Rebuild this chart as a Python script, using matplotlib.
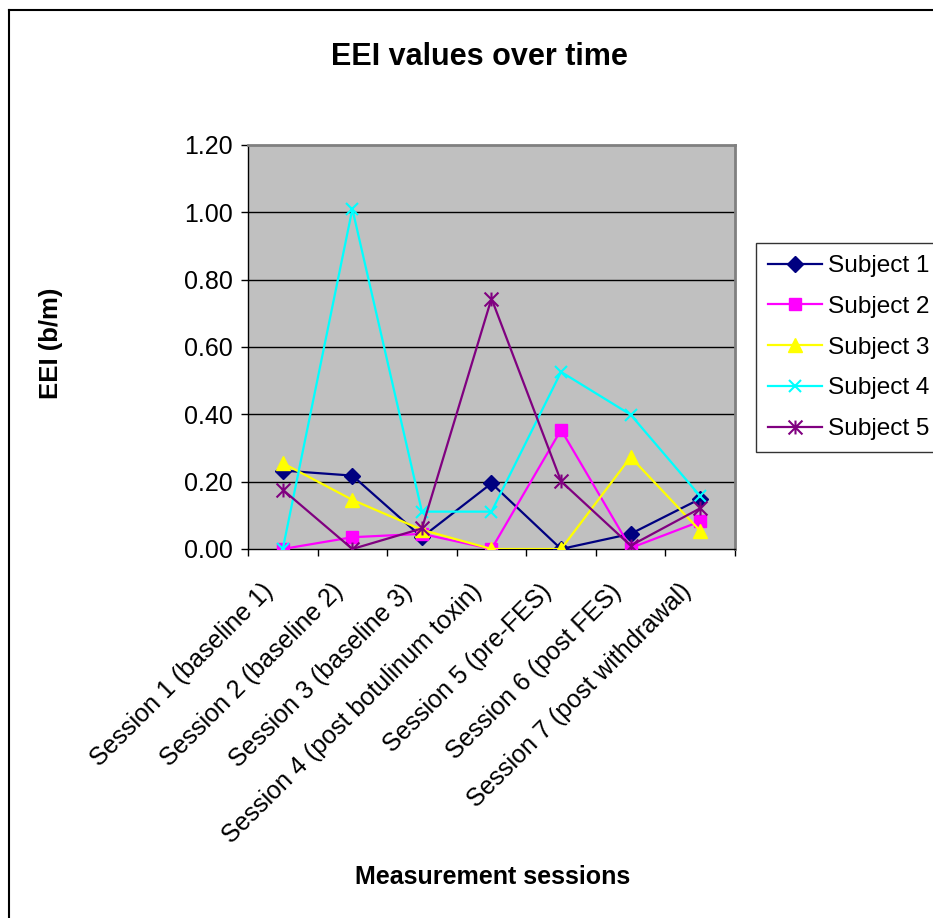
import numpy as np
import matplotlib
matplotlib.use("Agg")
import matplotlib.pyplot as plt
from matplotlib.path import Path
from matplotlib.lines import Line2D
from matplotlib.ticker import FixedLocator, FormatStrFormatter
from matplotlib.transforms import ScaledTranslation

plt.rcParams["font.family"] = ["Liberation Sans", "DejaVu Sans"]

sessions = [
    "Session 1 (baseline 1)",
    "Session 2 (baseline 2)",
    "Session 3 (baseline 3)",
    "Session 4 (post botulinum toxin)",
    "Session 5 (pre-FES)",
    "Session 6 (post FES)",
    "Session 7 (post withdrawal)",
]
subject_names = ["Subject 1", "Subject 2", "Subject 3", "Subject 4", "Subject 5"]

subject1 = [0.233, 0.218, 0.035, 0.195, 0.0, 0.045, 0.149]
subject2 = [0.0, 0.035, 0.045, 0.0, 0.354, 0.003, 0.082]
subject3 = [0.255, 0.146, 0.057, 0.0, 0.0, 0.273, 0.054]
subject4 = [0.0, 1.010, 0.111, 0.111, 0.526, 0.399, 0.157]
subject5 = [0.176, 0.0, 0.061, 0.744, 0.201, 0.010, 0.121]

# excel-style asterisk: vertical bar plus an X
star = Path(
    [(0, -1), (0, 1), (-1, -1), (1, 1), (-1, 1), (1, -1)],
    [Path.MOVETO, Path.LINETO, Path.MOVETO, Path.LINETO, Path.MOVETO, Path.LINETO],
)

styles = [
    dict(color="#000080", marker="D", ms=8.5),
    dict(color="#FF00FF", marker="s", ms=8),
    dict(color="#FFFF00", marker="^", ms=10),
    dict(color="#00FFFF", marker="x", ms=9, mew=1.5),
    dict(color="#800080", marker=star, ms=10, mew=1.5),
]

W, H = 933, 918
fig = plt.figure(figsize=(W / 100, H / 100), dpi=100)
ax = fig.add_axes([248 / W, 1 - 549 / H, 487 / W, 404 / H])
ax.set_facecolor("#C0C0C0")

x = np.arange(len(sessions))
series = [subject1, subject2, subject3, subject4, subject5]
for name, vals, st in zip(subject_names, series, styles):
    ax.plot(x, vals, label=name, lw=1.6, zorder=3, **st)

ax.set_xlim(-0.5, len(sessions) - 0.5)
ax.set_ylim(0, 1.2)
ax.set_yticks(np.arange(0, 1.21, 0.2))
ax.yaxis.set_major_formatter(FormatStrFormatter("%.2f"))
for yv in np.arange(0.2, 1.01, 0.2):
    ax.axhline(yv, color="black", lw=1, zorder=1)

ax.set_xticks(x)
ax.set_xticklabels(sessions, rotation=45, ha="right", va="center",
                   rotation_mode="anchor")
ax.xaxis.set_minor_locator(FixedLocator(np.arange(-0.5, len(sessions), 1.0)))
ax.tick_params(axis="x", which="major", length=0, pad=28, labelsize=18)
ax.tick_params(axis="x", which="minor", length=5, width=1, direction="out")
ax.tick_params(axis="y", length=5, width=1, direction="out", pad=6, labelsize=18)
shift = ScaledTranslation(-0.13, 0, fig.dpi_scale_trans)
for lab in ax.get_xticklabels():
    lab.set_transform(lab.get_transform() + shift)

for side in ["top", "right"]:
    ax.spines[side].set_color("#808080")
    ax.spines[side].set_linewidth(2)
for side in ["left", "bottom"]:
    ax.spines[side].set_color("black")
    ax.spines[side].set_linewidth(1)

leg = ax.legend(loc="upper left", bbox_to_anchor=(756 / W, 1 - 243 / H),
                bbox_transform=fig.transFigure, fontsize=17.6, frameon=True,
                fancybox=False, edgecolor="black", borderaxespad=0,
                handlelength=2.2, handletextpad=0.25, labelspacing=0.76,
                borderpad=0.5)
leg.get_frame().set_linewidth(1)

fig.text(479 / W, 1 - 57 / H, "EEI values over time", ha="center", va="center",
         fontsize=22, fontweight="bold")
fig.text(51 / W, 1 - 343 / H, "EEI (b/m)", ha="center", va="center",
         rotation=90, fontsize=18.5, fontweight="bold")
fig.text(493 / W, 1 - 877 / H, "Measurement sessions", ha="center", va="center",
         fontsize=18, fontweight="bold")

# chart border on the left and top edges
fig.add_artist(Line2D([8.5 / W, 8.5 / W], [0, 1 - 10 / H], color="black", lw=1.5,
                      transform=fig.transFigure))
fig.add_artist(Line2D([8.5 / W, 1], [1 - 10 / H, 1 - 10 / H], color="black", lw=1.5,
                      transform=fig.transFigure))

fig.savefig("out.png", dpi=100)
